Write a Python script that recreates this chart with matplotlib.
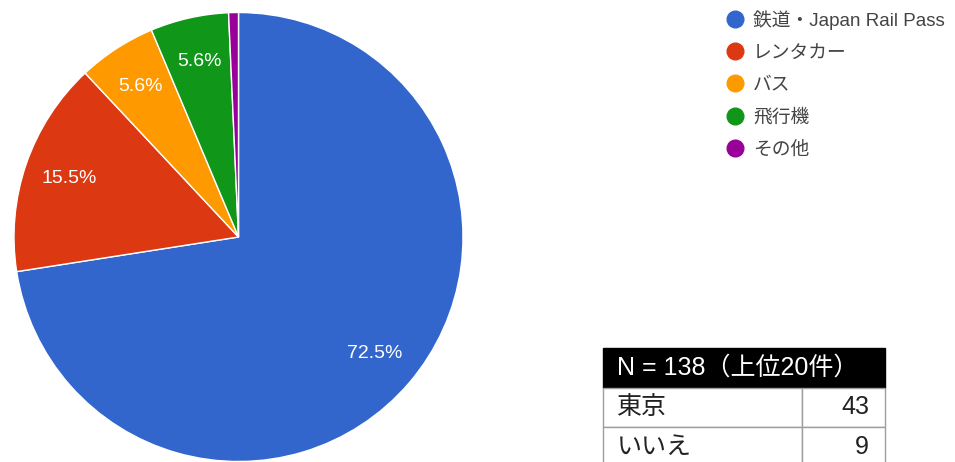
import matplotlib.pyplot as plt
from matplotlib.lines import Line2D
from matplotlib.patches import Rectangle

plt.rcParams['font.family'] = ['Liberation Sans', 'Noto Sans CJK JP', 'DejaVu Sans']

# 交通手段の回答数
labels = ['鉄道・Japan Rail Pass', 'レンタカー', 'バス', '飛行機', 'その他']
counts = [103, 22, 8, 8, 1]
colors = ['#3366cc', '#dc3912', '#ff9900', '#109618', '#990099']

# 右下の表（上位のみ）
table_title = 'N = 138（上位20件）'
table_names = ['東京', 'いいえ']
table_counts = [43, 9]

W, H = 955, 462
fig = plt.figure(figsize=(W / 100, H / 100), dpi=100)

# pie: centre (238.5, 237) px, radius 224.5 px
r_px = 224.5
ax = fig.add_axes([(238.5 - r_px) / W, (H - 237 - r_px) / H, 2 * r_px / W, 2 * r_px / H])


def pct_label(p):
    return f'{p:.1f}%' if p >= 1 else ''


ax.pie(counts, colors=colors, startangle=90, counterclock=False,
       autopct=pct_label, pctdistance=0.8,
       wedgeprops=dict(edgecolor='white', linewidth=1),
       textprops=dict(color='white', fontsize=14))
ax.set_xlim(-1, 1)
ax.set_ylim(-1, 1)
ax.set_aspect('equal')
ax.axis('off')

# legend
handles = [Line2D([], [], marker='o', ls='', color=c, markersize=12) for c in colors]
fig.legend(handles, labels, loc='upper left', bbox_to_anchor=(727.5 / W, 1 - 10 / H),
           frameon=False, fontsize=13.5, labelspacing=0.8, handlelength=0.8,
           handletextpad=0.56, borderaxespad=0, borderpad=0, labelcolor='#444444')

# table
tx0, tx1 = 603, 885
col_split = 802
top = 348
row_h = 39.5
tax = fig.add_axes([0, 0, 1, 1])
tax.set_xlim(0, W)
tax.set_ylim(H, 0)
tax.axis('off')

tax.add_patch(Rectangle((tx0, top), tx1 - tx0, row_h, facecolor='black', edgecolor='black'))
tax.text(tx0 + 14, top + row_h / 2, table_title, color='white', fontsize=18,
         va='center', ha='left')
for i, (name, n) in enumerate(zip(table_names, table_counts)):
    y = top + row_h * (i + 1)
    tax.add_patch(Rectangle((tx0, y), col_split - tx0, row_h, facecolor='white',
                            edgecolor='#9e9e9e', linewidth=1))
    tax.add_patch(Rectangle((col_split, y), tx1 - col_split, row_h, facecolor='white',
                            edgecolor='#9e9e9e', linewidth=1))
    tax.text(tx0 + 14, y + row_h / 2, name, color='#222222', fontsize=18,
             va='center', ha='left')
    tax.text(tx1 - 16, y + row_h / 2, str(n), color='#222222', fontsize=18,
             va='center', ha='right')

fig.savefig('out.png', dpi=100, facecolor='white')
